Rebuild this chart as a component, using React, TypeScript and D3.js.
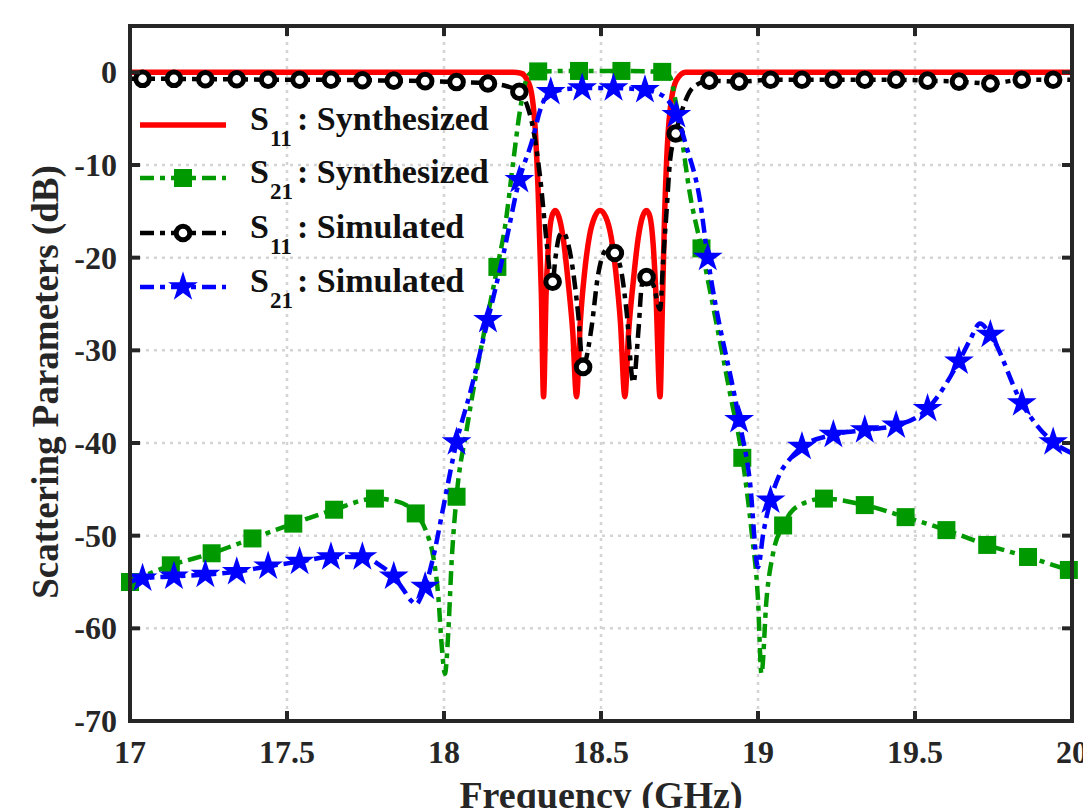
import React, { useRef, useEffect } from "react";
import * as d3 from "d3";

// S11 synthesized (red, solid)
const s11Synth: [number, number][] = [
  [17, 0], [18.22, 0], [18.245, -0.1], [18.263, -0.7], [18.279, -2.3], [18.29, -5.9],
  [18.3, -13], [18.31, -23.8], [18.317, -35], [18.325, -24], [18.333, -18.5], [18.343, -15.6],
  [18.354, -14.9], [18.366, -15.6], [18.38, -18], [18.395, -22.5], [18.41, -28], [18.422, -35],
  [18.434, -27], [18.448, -21.5], [18.463, -17.7], [18.48, -15.6], [18.497, -14.9], [18.515, -15.6],
  [18.532, -17.7], [18.547, -21.5], [18.562, -27], [18.576, -35], [18.588, -28], [18.603, -22.5],
  [18.618, -18], [18.632, -15.6], [18.645, -14.9], [18.656, -15.6], [18.666, -18.5], [18.675, -24],
  [18.688, -35], [18.695, -26], [18.702, -16], [18.709, -9.5], [18.72, -4.1], [18.741, -0.8],
  [18.77, 0], [20, 0],
];

// S21 synthesized (green)
const s21Synth: [number, number][] = [
  [17, -55], [17.13, -53.2], [17.26, -51.9], [17.39, -50.3], [17.52, -48.7], [17.65, -47.2],
  [17.78, -46], [17.85, -46.3], [17.91, -47.6], [17.945, -49.7], [17.966, -52.3], [17.982, -56.6],
  [17.993, -62], [18.003, -64.9], [18.014, -60.2], [18.024, -53], [18.04, -45.8], [18.072, -38.6],
  [18.099, -33.2], [18.17, -21], [18.195, -16.5], [18.221, -9.5], [18.242, -4.1], [18.262, -0.8],
  [18.28, 0], [18.3, 0.1], [18.43, 0.15], [18.565, 0.15], [18.695, 0.05], [18.72, -0.5],
  [18.737, -3], [18.752, -5.9], [18.783, -13.1], [18.82, -19], [18.87, -27.5], [18.91, -34.5],
  [18.95, -41.6], [18.98, -49.7], [19.0, -56.9], [19.011, -64.9], [19.027, -56.9], [19.048, -51.9],
  [19.08, -48.9], [19.123, -46.9], [19.21, -46], [19.34, -46.7], [19.47, -48], [19.6, -49.4],
  [19.73, -51], [19.86, -52.3], [19.99, -53.7], [20, -53.8],
];
const s21SynthMarks: [number, number][] = [
  [17, -55], [17.13, -53.2], [17.26, -51.9], [17.39, -50.3], [17.52, -48.7], [17.65, -47.2],
  [17.78, -46], [17.91, -47.6], [18.04, -45.8], [18.17, -21], [18.3, 0.1], [18.43, 0.15],
  [18.565, 0.15], [18.695, 0.05], [18.82, -19], [18.95, -41.6], [19.08, -48.9], [19.21, -46],
  [19.34, -46.7], [19.47, -48], [19.6, -49.4], [19.73, -51], [19.86, -52.3], [19.99, -53.7],
];

// S11 simulated (black)
const s11Sim: [number, number][] = [
  [17, -0.7], [17.04, -0.7], [17.14, -0.7], [17.24, -0.75], [17.34, -0.75], [17.44, -0.8],
  [17.54, -0.8], [17.64, -0.8], [17.74, -0.85], [17.84, -0.9], [17.94, -0.95], [18.04, -1.05],
  [18.14, -1.2], [18.2, -1.5], [18.24, -2.1], [18.265, -3.6], [18.283, -5.9], [18.306, -11.3],
  [18.327, -18.4], [18.338, -21.7], [18.346, -22.6], [18.355, -20], [18.368, -17.6], [18.38, -17.3],
  [18.393, -18.2], [18.406, -20.3], [18.427, -26], [18.443, -31.8], [18.452, -31], [18.47, -27.5],
  [18.49, -22], [18.51, -19.4], [18.53, -18.8], [18.544, -19.5], [18.566, -21.7], [18.582, -26],
  [18.603, -33.5], [18.62, -27.5], [18.63, -23], [18.645, -22.1], [18.667, -23], [18.688, -25.6],
  [18.698, -20.3], [18.709, -14.9], [18.72, -9.5], [18.738, -6.6], [18.762, -3.7], [18.794, -1.6],
  [18.845, -0.9], [18.94, -1.0], [19.04, -0.8], [19.14, -0.8], [19.24, -0.8], [19.34, -0.8],
  [19.44, -0.8], [19.54, -0.9], [19.64, -1.0], [19.74, -1.2], [19.84, -0.8], [19.94, -0.8], [20, -0.8],
];
const s11SimMarks: [number, number][] = [
  [17.04, -0.7], [17.14, -0.7], [17.24, -0.75], [17.34, -0.75], [17.44, -0.8], [17.54, -0.8],
  [17.64, -0.8], [17.74, -0.85], [17.84, -0.9], [17.94, -0.95], [18.04, -1.05], [18.14, -1.2],
  [18.24, -2.1], [18.346, -22.6], [18.443, -31.8], [18.544, -19.5], [18.645, -22.1], [18.738, -6.6],
  [18.845, -0.9], [18.94, -1.0], [19.04, -0.8], [19.14, -0.8], [19.24, -0.8], [19.34, -0.8],
  [19.44, -0.8], [19.54, -0.9], [19.64, -1.0], [19.74, -1.2], [19.84, -0.8], [19.94, -0.8],
];

// S21 simulated (blue)
const s21Sim: [number, number][] = [
  [17, -55], [17.04, -54.6], [17.14, -54.4], [17.24, -54.2], [17.34, -53.9], [17.44, -53.3],
  [17.54, -52.8], [17.64, -52.3], [17.74, -52.3], [17.796, -53.2], [17.84, -54.4], [17.87, -55.8],
  [17.895, -57], [17.912, -57.4], [17.927, -56.6], [17.94, -55.5], [17.966, -52.3], [17.998, -46.9],
  [18.04, -39.9], [18.083, -34.6], [18.14, -26.7], [18.19, -19.5], [18.24, -11.6], [18.284, -7],
  [18.306, -4.1], [18.34, -2.1], [18.44, -1.7], [18.54, -1.7], [18.64, -1.9], [18.7, -2.6],
  [18.74, -4.6], [18.772, -8], [18.815, -13.8], [18.84, -20], [18.94, -37.5], [18.975, -44.4],
  [19.0, -53.4], [19.017, -49.7], [19.04, -46.2], [19.07, -43.3], [19.1, -41.8], [19.14, -40.4],
  [19.24, -39.1], [19.34, -38.6], [19.44, -38.1], [19.54, -36.3], [19.64, -31.2], [19.675, -28.9],
  [19.707, -27.1], [19.74, -28.3], [19.84, -35.7], [19.94, -39.9], [20, -41.1],
];
const s21SimMarks: [number, number][] = [
  [17.04, -54.6], [17.14, -54.4], [17.24, -54.2], [17.34, -53.9], [17.44, -53.3], [17.54, -52.8],
  [17.64, -52.3], [17.74, -52.3], [17.84, -54.4], [17.94, -55.5], [18.04, -39.9], [18.14, -26.7],
  [18.24, -11.6], [18.34, -2.1], [18.44, -1.7], [18.54, -1.7], [18.64, -1.9], [18.74, -4.6],
  [18.84, -20], [18.94, -37.5], [19.04, -46.2], [19.14, -40.4], [19.24, -39.1], [19.34, -38.6],
  [19.44, -38.1], [19.54, -36.3], [19.64, -31.2], [19.74, -28.3], [19.84, -35.7], [19.94, -39.9],
];

const xTicks = [17, 17.5, 18, 18.5, 19, 19.5, 20];
const yTicks = [0, -10, -20, -30, -40, -50, -60, -70];
const legendSub = ["11", "21", "11", "21"];
const legendNames = [": Synthesized", ": Synthesized", ": Simulated", ": Simulated"];

const RED = "#ff0000";
const GREEN = "#009a00";
const BLACK = "#000000";
const BLUE = "#0000ff";
const AXIS = "#262626";
const FONT = "'Liberation Serif', 'Times New Roman', serif";
const DASHDOT = "14,6,5,6";

const App = () => {
  const ref = useRef<SVGSVGElement>(null);

  useEffect(() => {
    const svg = d3.select(ref.current);
    svg.selectAll("*").remove();

    const left = 130, right = 1072, top = 26, bottom = 721;
    const x = d3.scaleLinear().domain([17, 20]).range([left, right]);
    const y = d3.scaleLinear().domain([-70, 5]).range([bottom, top]);

    // grid
    const grid = svg.append("g");
    xTicks.slice(1, -1).forEach((t) => {
      grid.append("line")
        .attr("x1", x(t)).attr("x2", x(t)).attr("y1", top).attr("y2", bottom)
        .attr("stroke", "#d4d4d4").attr("stroke-width", 2.5).attr("stroke-dasharray", "3,5");
    });
    yTicks.slice(0, -1).forEach((t) => {
      grid.append("line")
        .attr("x1", left).attr("x2", right).attr("y1", y(t)).attr("y2", y(t))
        .attr("stroke", "#d4d4d4").attr("stroke-width", 2.5).attr("stroke-dasharray", "3,5");
    });

    const line = d3.line<[number, number]>()
      .x((d) => x(d[0]))
      .y((d) => y(d[1]))
      .curve(d3.curveMonotoneX);

    const drawSquares = (g: any, pts: [number, number][]) => {
      g.selectAll(null).data(pts).enter().append("rect")
        .attr("x", (d: [number, number]) => x(d[0]) - 9)
        .attr("y", (d: [number, number]) => y(d[1]) - 9)
        .attr("width", 18).attr("height", 18)
        .attr("fill", GREEN);
    };
    const drawCircles = (g: any, pts: [number, number][]) => {
      g.selectAll(null).data(pts).enter().append("circle")
        .attr("cx", (d: [number, number]) => x(d[0]))
        .attr("cy", (d: [number, number]) => y(d[1]))
        .attr("r", 6.8).attr("fill", "white")
        .attr("stroke", BLACK).attr("stroke-width", 5);
    };
    const star = d3.symbol().type(d3.symbolStar).size(275);
    const drawStars = (g: any, pts: [number, number][]) => {
      g.selectAll(null).data(pts).enter().append("path")
        .attr("d", star as any)
        .attr("transform", (d: [number, number]) => `translate(${x(d[0])},${y(d[1])})`)
        .attr("fill", BLUE);
    };

    const plot = svg.append("g");
    plot.append("path").attr("d", line(s11Synth)).attr("fill", "none")
      .attr("stroke", RED).attr("stroke-width", 5.5);

    plot.append("path").attr("d", line(s21Synth)).attr("fill", "none")
      .attr("stroke", GREEN).attr("stroke-width", 4.5).attr("stroke-dasharray", DASHDOT);
    drawSquares(plot.append("g"), s21SynthMarks);

    plot.append("path").attr("d", line(s11Sim)).attr("fill", "none")
      .attr("stroke", BLACK).attr("stroke-width", 4.5).attr("stroke-dasharray", DASHDOT);
    drawCircles(plot.append("g"), s11SimMarks);

    plot.append("path").attr("d", line(s21Sim)).attr("fill", "none")
      .attr("stroke", BLUE).attr("stroke-width", 4.5).attr("stroke-dasharray", DASHDOT);
    drawStars(plot.append("g"), s21SimMarks);

    // axes box and inward ticks
    const ax = svg.append("g").attr("stroke", AXIS).attr("stroke-width", 4);
    ax.append("rect").attr("x", left).attr("y", top)
      .attr("width", right - left).attr("height", bottom - top).attr("fill", "none");
    xTicks.forEach((t) => {
      ax.append("line").attr("x1", x(t)).attr("x2", x(t)).attr("y1", bottom).attr("y2", bottom - 10);
      ax.append("line").attr("x1", x(t)).attr("x2", x(t)).attr("y1", top).attr("y2", top + 10);
    });
    yTicks.forEach((t) => {
      ax.append("line").attr("x1", left).attr("x2", left + 10).attr("y1", y(t)).attr("y2", y(t));
      ax.append("line").attr("x1", right).attr("x2", right - 10).attr("y1", y(t)).attr("y2", y(t));
    });

    const labels = svg.append("g").attr("font-family", FONT).attr("font-weight", "bold")
      .attr("fill", AXIS);
    xTicks.forEach((t) => {
      labels.append("text").attr("x", x(t)).attr("y", 763).attr("text-anchor", "middle")
        .attr("font-size", 32).text(String(t));
    });
    yTicks.forEach((t) => {
      labels.append("text").attr("x", 117).attr("y", y(t) + 11).attr("text-anchor", "end")
        .attr("font-size", 32).text(String(t));
    });
    labels.append("text").attr("x", (left + right) / 2).attr("y", 808)
      .attr("text-anchor", "middle").attr("font-size", 38).text("Frequency (GHz)");
    labels.append("text")
      .attr("transform", `translate(58,382) rotate(-90)`)
      .attr("text-anchor", "middle").attr("font-size", 37).text("Scattering Parameters (dB)");

    // legend
    const legendY = [125, 178, 233, 287];
    const lg = svg.append("g");
    legendY.forEach((ly, i) => {
      const ln = lg.append("line").attr("x1", 140).attr("x2", 226).attr("y1", ly).attr("y2", ly)
        .attr("stroke-width", i === 0 ? 5.5 : 4.5);
      if (i === 0) ln.attr("stroke", RED);
      if (i === 1) { ln.attr("stroke", GREEN).attr("stroke-dasharray", DASHDOT); }
      if (i === 2) { ln.attr("stroke", BLACK).attr("stroke-dasharray", DASHDOT); }
      if (i === 3) { ln.attr("stroke", BLUE).attr("stroke-dasharray", DASHDOT); }
      const lx = x.invert(183), lv = y.invert(ly);
      if (i === 1) drawSquares(lg, [[lx, lv]]);
      if (i === 2) drawCircles(lg, [[lx, lv]]);
      if (i === 3) drawStars(lg, [[lx, lv]]);
      const t = lg.append("g").attr("font-family", FONT).attr("font-weight", "bold").attr("fill", "#111");
      t.append("text").attr("x", 250).attr("y", ly + 5).attr("font-size", 34).text("S");
      t.append("text").attr("x", 270).attr("y", ly + 21).attr("font-size", 23).text(legendSub[i]);
      t.append("text").attr("x", 297).attr("y", ly + 5).attr("font-size", 34).text(legendNames[i]);
    });
  }, []);

  return (
    <svg
      ref={ref}
      width={1083}
      height={808}
      style={{ position: "absolute", left: 0, top: 0, background: "white" }}
    />
  );
};

export default App;
